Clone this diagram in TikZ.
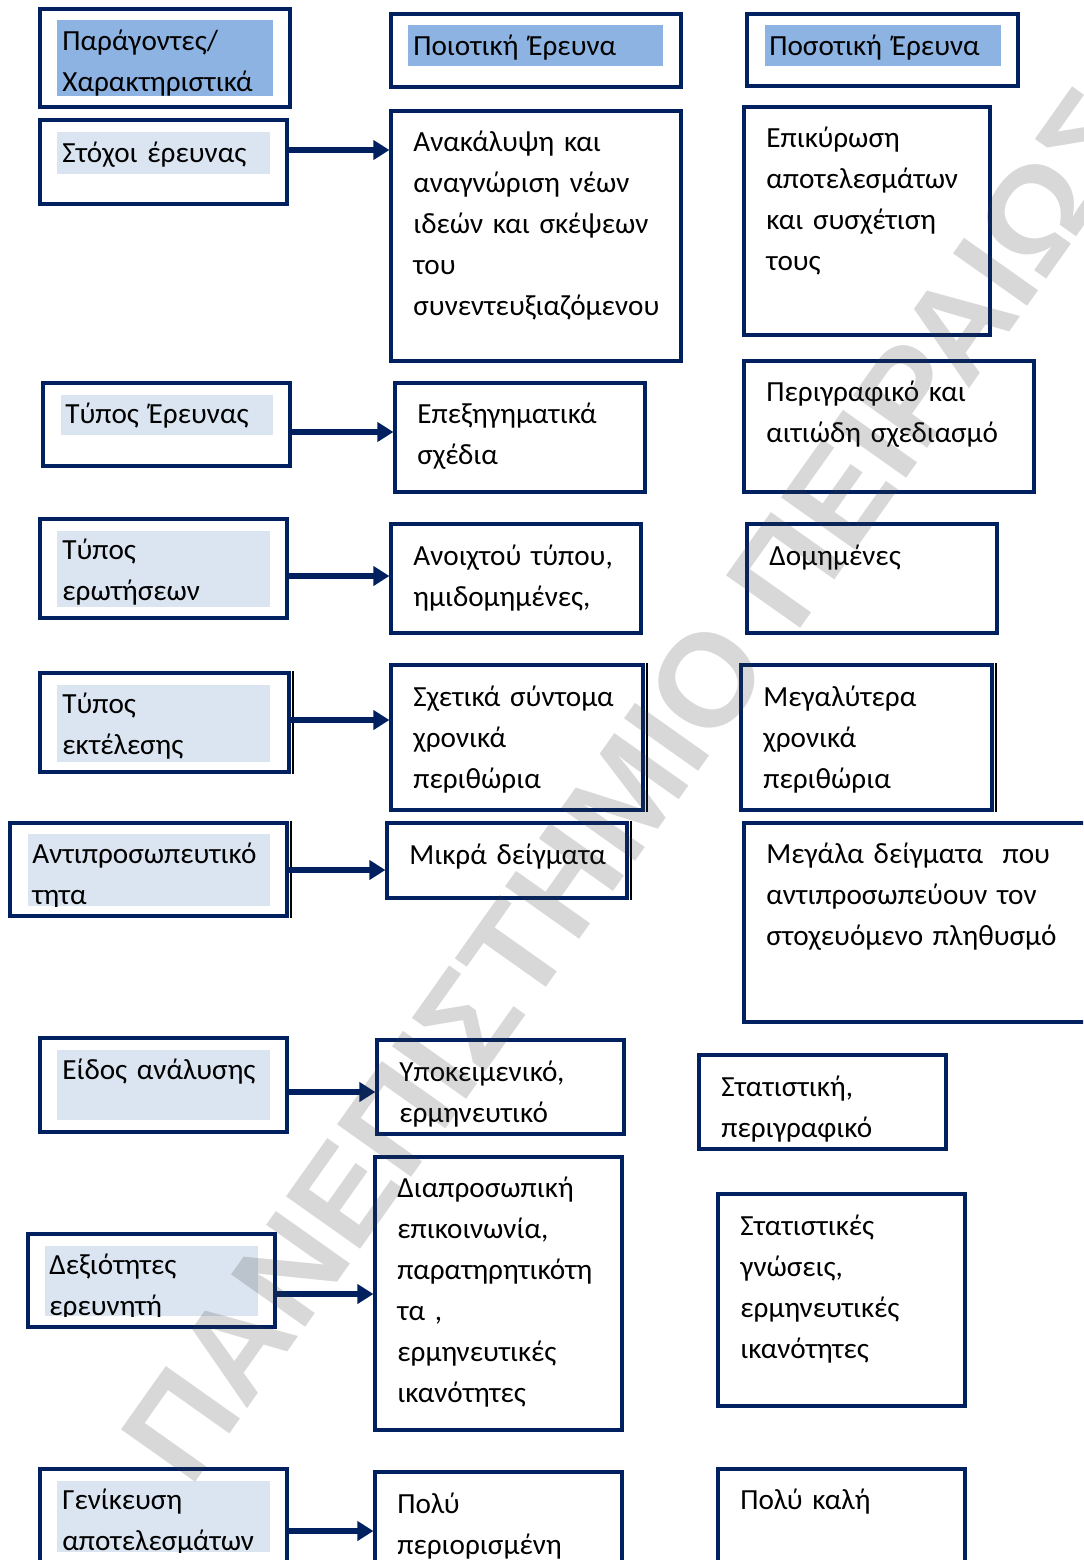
\documentclass[tikz,border=0pt]{standalone}
\usepackage{fontspec}
\setmainfont{Carlito}
\newfontfamily\wmfont{Liberation Sans}
\usetikzlibrary{arrows.meta,fit}

\definecolor{navy}{RGB}{0,32,96}
\definecolor{headfill}{RGB}{141,179,226}
\definecolor{rowfill}{RGB}{219,229,241}
\definecolor{wmgray}{RGB}{60,60,60}

\tikzset{
  frame/.style={draw=navy, line width=1.6pt, inner sep=0pt, fill=white},
  hfill/.style={fill=headfill, draw=none, inner sep=0pt},
  rfill/.style={fill=rowfill, draw=none, inner sep=0pt},
  txt/.style={anchor=base west, inner sep=0pt, text width=330pt, align=left,
    font=\fontsize{14.6pt}{20.5pt}\selectfont},
  link/.style={draw=navy, line width=2.6pt, -{Triangle[length=8pt,width=9.5pt]}},
  shadowline/.style={draw=black, line width=0.6pt},
  wm/.style={font=\wmfont\bfseries\fontsize{66pt}{66pt}\selectfont, text=wmgray,
    text opacity=0.2, inner sep=0pt}
}

% panel: name, x1, y1, x2, y2 (pixel units, y measured downwards)
\newcommand\panel[5]{\node[frame, fit={(#2,-#3) (#4,-#5)}] (#1) {};}
\newcommand\band[6]{\node[#6, fit={(#2,-#3) (#4,-#5)}] (#1) {};}
\newcommand\words[4]{\node[txt] (#1) at (#2,-#3) {#4};}

\begin{document}
\begin{tikzpicture}[x=0.5pt,y=0.5pt]
\useasboundingbox (0,0) rectangle (1083,-1560);
\clip (0,0) rectangle (1083,-1560);
\fill[white] (0,0) rectangle (1083,-1560);

% ---------- column headings ----------
\panel{hA}{40}{9}{290}{107}
\band{hAf}{57}{20}{273}{96}{hfill}
\words{hAt}{62}{50}{Παράγοντες/\\Χαρακτηριστικά}

\panel{hB}{391}{14}{681}{87}
\band{hBf}{408}{25}{663}{66}{hfill}
\words{hBt}{413}{55}{Ποιοτική Έρευνα}

\panel{hC}{747}{14}{1018}{86}
\band{hCf}{765}{25}{1001}{66}{hfill}
\words{hCt}{769}{55}{Ποσοτική Έρευνα}

% ---------- row 1 ----------
\panel{rA}{40}{120}{287}{204}
\band{rAf}{57}{132}{270}{174}{rfill}
\words{rAt}{62}{162}{Στόχοι έρευνας}
\panel{cA}{391}{111}{681}{361}
\words{cAt}{413}{151}{Ανακάλυψη και\\αναγνώριση νέων\\ιδεών και σκέψεων\\του\\συνεντευξιαζόμενου}
\panel{dA}{744}{107}{990}{335}
\words{dAt}{766}{147}{Επικύρωση\\αποτελεσμάτων\\και συσχέτιση\\τους}

% ---------- row 2 ----------
\panel{rB}{43}{383}{290}{466}
\band{rBf}{61}{395}{273}{435}{rfill}
\words{rBt}{65}{423}{Τύπος Έρευνας}
\panel{cB}{395}{383}{645}{492}
\words{cBt}{417}{423}{Επεξηγηματικά\\σχέδια}
\panel{dB}{744}{361}{1034}{492}
\words{dBt}{766}{401}{Περιγραφικό και\\αιτιώδη σχεδιασμό}

% ---------- row 3 ----------
\panel{rC}{40}{519}{287}{618}
\band{rCf}{57}{531}{270}{607}{rfill}
\words{rCt}{62}{559}{Τύπος\\ερωτήσεων}
\panel{cC}{391}{524}{641}{633}
\words{cCt}{413}{565}{Ανοιχτού τύπου,\\ημιδομημένες,}
\panel{dC}{747}{524}{997}{633}
\words{dCt}{769}{565}{Δομημένες}

% ---------- row 4 ----------
\panel{rD}{40}{673}{289}{772}
\band{rDf}{57}{685}{270}{762}{rfill}
\words{rDt}{62}{713}{Τύπος\\εκτέλεσης}
\panel{cD}{391}{665}{643}{810}
\words{cDt}{413}{706}{Σχετικά σύντομα\\χρονικά\\περιθώρια}
\panel{dD}{741}{665}{992}{810}
\words{dDt}{763}{706}{Μεγαλύτερα\\χρονικά\\περιθώρια}

% ---------- row 5 ----------
\panel{rE}{10}{823}{287}{916}
\band{rEf}{28}{834}{270}{906}{rfill}
\begin{scope}
  \clip (rEf.south west) rectangle (rEf.north east);
  \words{rEt}{32}{863}{Αντιπροσωπευτικό\\τητα}
\end{scope}
\panel{cE}{387}{823}{627}{898}
\words{cEt}{409}{864}{Μικρά δείγματα}
\panel{dE}{744}{823}{1095}{1022}
\words{dEt}{766}{863}{Μεγάλα δείγματα\ \ που\\αντιπροσωπεύουν τον\\στοχευόμενο πληθυσμό}

% ---------- row 6 ----------
\panel{rF}{40}{1038}{287}{1132}
\band{rFf}{57}{1050}{270}{1120}{rfill}
\words{rFt}{62}{1079}{Είδος ανάλυσης}
\panel{cF}{377}{1040}{624}{1134}
\words{cFt}{399}{1081}{Υποκειμενικό,\\ερμηνευτικό}
\panel{dF}{699}{1055}{946}{1149}
\begin{scope}
  \clip ([shift={(2,2)}]dF.south west) rectangle (dF.north east);
  \words{dFt}{721}{1096}{Στατιστική,\\περιγραφικό}
\end{scope}

% ---------- row 7 ----------
\panel{rG}{28}{1234}{275}{1327}
\band{rGf}{45}{1246}{258}{1316}{rfill}
\begin{scope}
  \clip (rGf.south west) rectangle (rGf.north east);
  \words{rGt}{49}{1274}{Δεξιότητες\\ερευνητή}
\end{scope}
\panel{cG}{375}{1157}{622}{1430}
\words{cGt}{397}{1197}{Διαπροσωπική\\επικοινωνία,\\παρατηρητικότη\\τα ,\\ερμηνευτικές\\ικανότητες}
\panel{dG}{718}{1194}{965}{1406}
\words{dGt}{740}{1235}{Στατιστικές\\γνώσεις,\\ερμηνευτικές\\ικανότητες}

% ---------- row 8 ----------
\panel{rH}{40}{1469}{287}{1580}
\band{rHf}{57}{1481}{270}{1552}{rfill}
\begin{scope}
  \clip (rHf.south west) rectangle (rHf.north east);
  \words{rHt}{62}{1509}{Γενίκευση\\αποτελεσμάτων}
\end{scope}
\panel{cH}{375}{1472}{622}{1580}
\words{cHt}{397}{1513}{Πολύ\\περιορισμένη}
\panel{dH}{718}{1469}{965}{1580}
\words{dHt}{740}{1509}{Πολύ καλή}

% thin dark edges beside some frames
\draw[shadowline] ([xshift=1.2pt]rD.north east) -- ([xshift=1.2pt]rD.south east);
\draw[shadowline] ([xshift=1.2pt]rE.north east) -- ([xshift=1.2pt]rE.south east);
\draw[shadowline] ([xshift=1.2pt]cD.north east) -- ([xshift=1.2pt]cD.south east);
\draw[shadowline] ([xshift=1.2pt]cE.north east) -- ([xshift=1.2pt]cE.south east);
\draw[shadowline] ([xshift=1.2pt]dD.north east) -- ([xshift=1.2pt]dD.south east);

% ---------- connectors ----------
\draw[link] (rA.east |- 0,-150)  -- (cA.west |- 0,-150);
\draw[link] (rB.east |- 0,-432)  -- (cB.west |- 0,-432);
\draw[link] (rC.east |- 0,-576)  -- (cC.west |- 0,-576);
\draw[link] (rD.east |- 0,-720)  -- (cD.west |- 0,-720);
\draw[link] (rE.east |- 0,-870)  -- (cE.west |- 0,-870);
\draw[link] (rF.east |- 0,-1092) -- (cF.west |- 0,-1092);
\draw[link] (rG.east |- 0,-1294) -- (cG.west |- 0,-1294);
\draw[link] (rH.east |- 0,-1531) -- (cH.west |- 0,-1531);

% ---------- watermark ----------
\node[wm, rotate=54.7, anchor=base west] (wmark) at (190,-1490) {ΠΑΝΕΠΙΣΤΗΜΙΟ ΠΕΙΡΑΙΩΣ};
\end{tikzpicture}
\end{document}
